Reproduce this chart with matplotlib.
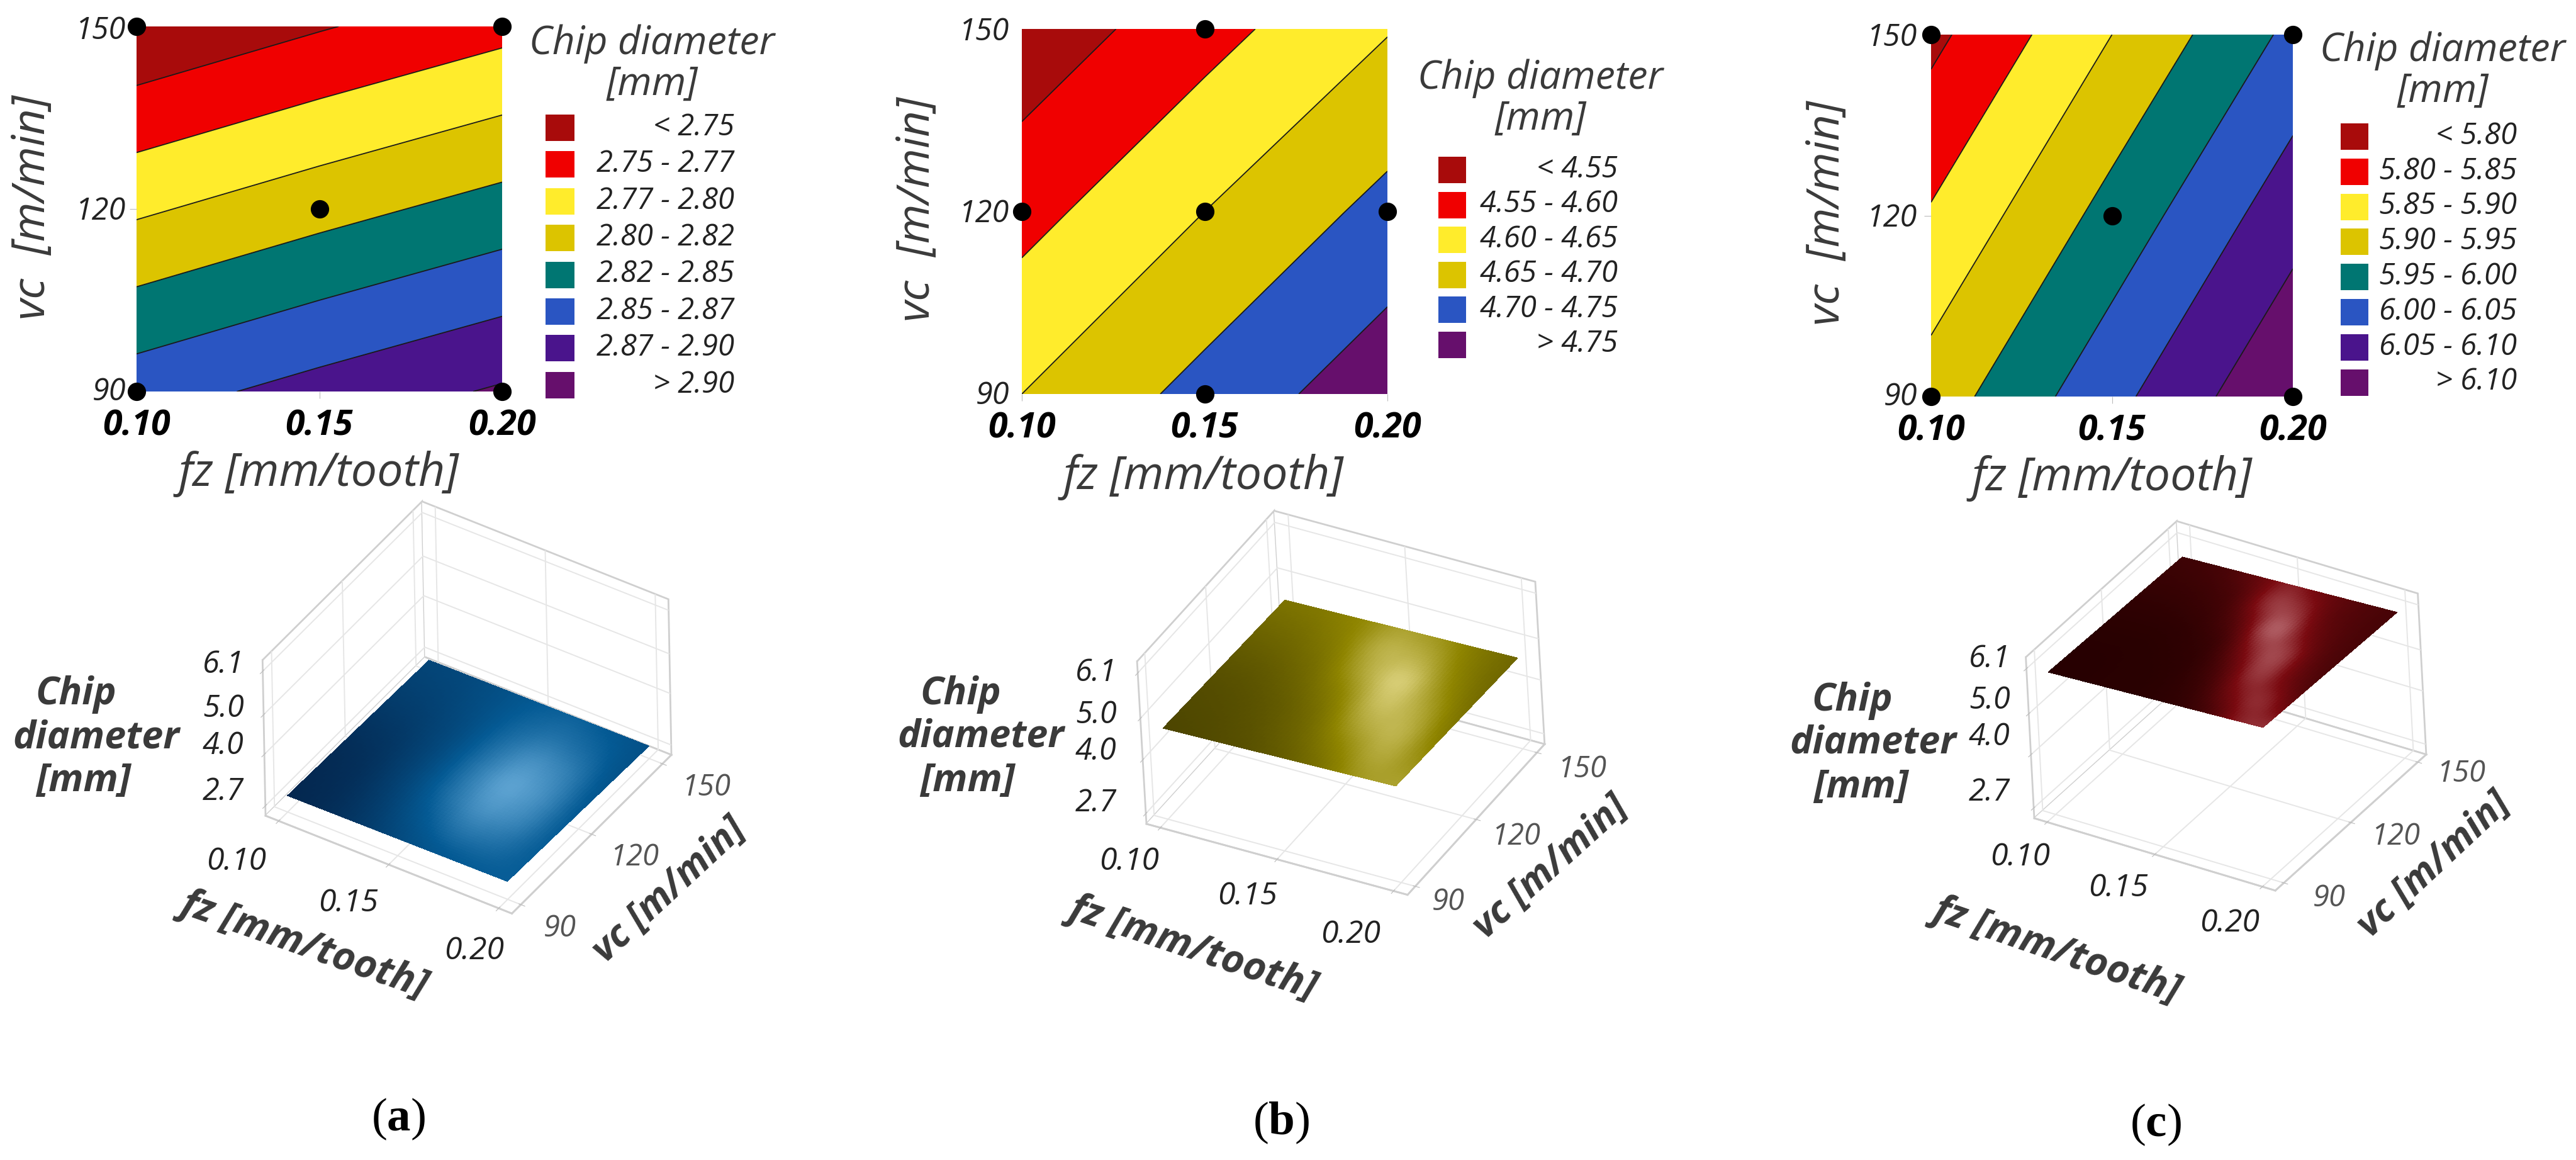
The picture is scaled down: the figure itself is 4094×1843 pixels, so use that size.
import numpy as np
import matplotlib
matplotlib.use('Agg')
import matplotlib.pyplot as plt
from matplotlib.colors import LinearSegmentedColormap
from matplotlib.patches import Rectangle
from mpl_toolkits.mplot3d import proj3d

W, H = 4094, 1843
plt.rcParams['font.family'] = ['Open Sans', 'DejaVu Sans']
plt.rcParams['mathtext.fontset'] = 'custom'
plt.rcParams['mathtext.bf'] = 'Liberation Serif:bold'
plt.rcParams['mathtext.rm'] = 'Liberation Serif'
plt.rcParams['grid.color'] = '#E6E6E6'
plt.rcParams['grid.linewidth'] = 1.4

# design axes
fz = [0.10, 0.15, 0.20]
vc = [90, 120, 150]

z_a = [[2.864, 2.884, 2.903], [2.796, 2.816, 2.835], [2.728, 2.748, 2.767]]
z_b = [[4.650, 4.716, 4.782], [4.583, 4.650, 4.715], [4.516, 4.582, 4.647]]
z_c = [[5.923, 6.035, 6.148], [5.855, 5.968, 6.080], [5.787, 5.900, 6.012]]

levels_a = [2.75, 2.775, 2.80, 2.825, 2.85, 2.875, 2.90]
levels_b = [4.55, 4.60, 4.65, 4.70, 4.75]
levels_c = [5.80, 5.85, 5.90, 5.95, 6.00, 6.05, 6.10]

labels_a = ['< 2.75', '2.75 - 2.77', '2.77 - 2.80', '2.80 - 2.82', '2.82 - 2.85',
            '2.85 - 2.87', '2.87 - 2.90', '> 2.90']
labels_b = ['< 4.55', '4.55 - 4.60', '4.60 - 4.65', '4.65 - 4.70', '4.70 - 4.75', '> 4.75']
labels_c = ['< 5.80', '5.80 - 5.85', '5.85 - 5.90', '5.90 - 5.95', '5.95 - 6.00',
            '6.00 - 6.05', '6.05 - 6.10', '> 6.10']

DRED, RED, YEL, GOLD, TEAL, BLUE, VIO, PUR = ('#A80B0B', '#F00000', '#FFEC2C', '#DCC400',
                                              '#007672', '#2A55C2', '#4A148C', '#660F6C')
colors_a = [DRED, RED, YEL, GOLD, TEAL, BLUE, VIO, PUR]
colors_b = [DRED, RED, YEL, GOLD, BLUE, PUR]
colors_c = colors_a

pts_a = ([0.10, 0.20, 0.15, 0.10, 0.20], [150, 150, 120, 90, 90])
pts_b = ([0.15, 0.10, 0.15, 0.20, 0.15], [150, 120, 120, 120, 90])
pts_c = ([0.10, 0.20, 0.15, 0.10, 0.20], [150, 150, 120, 90, 90])

# brightness of the 3d surfaces, rows front edge -> back edge, cols low fz -> high fz
shade_a = [[.00, .05, .18, .34, .46, .50, .52],
           [.02, .07, .24, .48, .68, .64, .50],
           [.04, .10, .30, .62, .88, .78, .48],
           [.10, .15, .32, .66, .98, .82, .45],
           [.18, .22, .34, .62, .86, .74, .42],
           [.25, .28, .38, .56, .66, .58, .40],
           [.30, .33, .40, .50, .54, .47, .40]]
shade_b = [[.05, .08, .12, .20, .35, .62, .68],
           [.08, .10, .16, .28, .50, .75, .55],
           [.10, .13, .20, .35, .72, .82, .42],
           [.15, .18, .28, .48, .90, .72, .35],
           [.22, .26, .36, .70, 1.0, .55, .30],
           [.30, .34, .46, .80, .75, .45, .28],
           [.38, .42, .52, .68, .58, .40, .28]]
shade_c = [[.02, .02, .03, .03, .05, .08, .20, .60, .68],
           [.02, .02, .03, .03, .06, .15, .50, .72, .35],
           [.03, .03, .03, .05, .08, .30, .78, .45, .22],
           [.05, .05, .05, .08, .15, .60, .85, .35, .20],
           [.08, .08, .10, .15, .38, 1.0, .50, .28, .20],
           [.12, .13, .16, .25, .75, .70, .35, .25, .20],
           [.15, .18, .25, .42, .62, .42, .32, .25, .20]]

cmap_a = LinearSegmentedColormap.from_list('a', ['#04274F', '#045A94', '#6BAEDB'])
cmap_b = LinearSegmentedColormap.from_list('b', ['#453E00', '#8F8500', '#E6DC8E'])
cmap_c = LinearSegmentedColormap.from_list('c', ['#240000', '#7A0A10', '#CC8A90'])

TICKS_Z = [2.7, 4.0, 5.0, 6.1]

fig = plt.figure(figsize=(W / 100, H / 100), dpi=100, facecolor='white')
over = fig.add_axes([0, 0, 1, 1], zorder=10)
over.set_xlim(0, W)
over.set_ylim(H, 0)
over.axis('off')
over.patch.set_alpha(0)


def txt(x, y, s, size, **kw):
    kw.setdefault('ha', 'center')
    kw.setdefault('va', 'center')
    kw.setdefault('style', 'italic')
    kw.setdefault('color', '#3A3A3A')
    over.text(x, y, s, fontsize=size, **kw)


def contour_panel(box, z, levels, colors, pts, tick_r, tick_y):
    x0, y0, x1, y1 = box
    ax = fig.add_axes([x0 / W, 1 - y1 / H, (x1 - x0) / W, (y1 - y0) / H])
    ax.contourf(fz, vc, z, levels=levels, colors=colors, extend='both')
    ax.contour(fz, vc, z, levels=levels, colors='#1A1A1A', linewidths=1.3)
    ax.scatter(pts[0], pts[1], s=400, color='black', clip_on=False, zorder=5)
    for s in ax.spines.values():
        s.set_visible(False)
    ax.set_xticks(fz)
    ax.set_xticklabels([f'{v:.2f}' for v in fz], fontsize=40, fontweight='bold', style='italic')
    ax.set_yticks([vc[1]])
    ax.set_yticklabels([''])
    ax.tick_params(length=8, color='#BBBBBB')
    ax.tick_params(axis='x', pad=12)
    for v, y in zip(vc, tick_y):
        txt(tick_r, y, str(v), 35, ha='right', color='#222222')


def legend(x0, x1, right, top, step, title_x, title_y, labels, colors):
    for i, (lab, c) in enumerate(zip(labels, colors)):
        over.add_patch(Rectangle((x0, top + i * step), x1 - x0, 42, color=c, lw=0))
        txt(right, top + i * step + 20, lab, 34, ha='right', color='#222222')
    txt(title_x, title_y[0], 'Chip diameter', 45)
    txt(title_x, title_y[1], '[mm]', 45)


def upsample(table, n=70):
    t = np.array(table, dtype=float)
    uo = np.linspace(0, 1, t.shape[1])
    vo = np.linspace(0, 1, t.shape[0])
    un = np.linspace(0, 1, n)
    a = np.array([np.interp(un, uo, r) for r in t])
    return np.array([np.interp(un, vo, c) for c in a.T]).T


def smooth(a, k=9):
    ker = np.ones(k) / k
    p = np.pad(a, k, mode='edge')
    p = np.apply_along_axis(lambda r: np.convolve(r, ker, mode='same'), 0, p)
    p = np.apply_along_axis(lambda r: np.convolve(r, ker, mode='same'), 1, p)
    return p[k:-k, k:-k]


def box_panel(view, aspect, left, right, z, shade, cmap):
    ax = fig.add_axes([0.1, 0.1, 400 / W, 400 / H], projection='3d', computed_zorder=True)
    ax.patch.set_alpha(0)
    ax.set_proj_type('ortho')
    ax.view_init(elev=view[0], azim=view[1], roll=view[2])
    ax.set_box_aspect(aspect)
    ax.set_xlim(0.094, 0.206)
    ax.set_ylim(86.2, 153.8)
    ax.set_zlim(2.45, 6.38)

    zz = upsample(z)
    n = zz.shape[0]
    X, Y = np.meshgrid(np.linspace(fz[0], fz[-1], n), np.linspace(vc[0], vc[-1], n))
    ax.plot_surface(X, Y, zz, facecolors=cmap(smooth(upsample(shade))), shade=False,
                    rstride=1, cstride=1, linewidth=0, antialiased=False)

    ax.set_xticks(fz)
    ax.set_yticks(vc)
    ax.set_zticks(TICKS_Z)
    ax.set_xticklabels([])
    ax.set_yticklabels([])
    ax.set_zticklabels([])
    ax.zaxis.set_ticks_position('lower')
    for a in (ax.xaxis, ax.yaxis, ax.zaxis):
        a.set_pane_color((1, 1, 1, 1))
        a.pane.set_edgecolor('#CFCFCF')
        a.pane.set_linewidth(2)
        a.line.set_color('#CFCFCF')
        a.line.set_linewidth(2)
    ax.tick_params(colors='#BBBBBB')

    # move the square axes so the two floor corners land where they should
    def corners():
        ax.apply_aspect()
        M = ax.get_proj()
        out = []
        for px, py in ((0.094, 86.2), (0.206, 153.8)):
            xs, ys, _ = proj3d.proj_transform(px, py, 2.45, M)
            out.append(ax.transData.transform((xs, ys)))
        return np.array(out)

    size = 400.0
    for _ in range(2):
        c = corners()
        d_now = np.linalg.norm(c[1] - c[0])
        d_want = np.hypot(right[0] - left[0], right[1] - left[1])
        size *= d_want / d_now
        ax.set_position([0.1, 0.1, size / W, size / H])
    c = corners()
    pos = ax.get_position()
    dx = left[0] - c[0][0]
    dy = (H - left[1]) - c[0][1]
    ax.set_position([pos.x0 + dx / W, pos.y0 + dy / H, size / W, size / H])
    return ax


def box_labels(z_x, z_y, chip, x_pos, v_pos, fz_t, vc_t, rot):
    for s, y in zip(['6.1', '5.0', '4.0', '2.7'], z_y):
        txt(z_x, y, s, 35, color='#222222')
    for s, p in zip(['Chip', 'diameter', '[mm]'], chip):
        txt(p[0], p[1], s, 44, fontweight='bold')
    for s, p in zip(['0.10', '0.15', '0.20'], x_pos):
        txt(p[0], p[1], s, 36, color='#222222')
    for s, p in zip(['150', '120', '90'], v_pos):
        txt(p[0], p[1], s, 34, color='#555555')
    txt(fz_t[0], fz_t[1], 'fz [mm/tooth]', 45, fontweight='bold', rotation=rot[0], rotation_mode='anchor')
    txt(vc_t[0], vc_t[1], 'vc [m/min]', 44, fontweight='bold', rotation=rot[1], rotation_mode='anchor')


# panel (a)
contour_panel((217, 42, 798, 622), z_a, levels_a, colors_a, pts_a, 200, [623, 336, 49])
legend(867, 913, 1167, 182, 58.4, 1036, (70, 135), labels_a, colors_a)
txt(506, 753, 'fz [mm/tooth]', 53)
txt(52, 330, 'vc  [m/min]', 52, rotation=90)
box_panel((39.3, -56.5, 1.1), (465, 467, 319), (422, 1296), (1068, 1206), z_a, shade_a, cmap_a)
box_labels(355, [1056, 1126, 1185, 1258], [(121, 1103), (153, 1173), (133, 1242)],
           [(376, 1369), (554, 1435), (754, 1511)], [(1122, 1251), (1008, 1362), (890, 1475)],
           (484, 1500), (1064, 1415), (-19.3, 42.8))
txt(633, 1778, r'($\mathbf{a}$)', 54, style='normal', color='black', family='Liberation Serif')

# panel (b)
contour_panel((1624, 46, 2205, 626), z_b, levels_b, colors_b, pts_b, 1604, [629, 340, 51])
legend(2286, 2330, 2571, 249, 55.5, 2448, (125, 190), labels_b, colors_b)
txt(1912, 758, 'fz [mm/tooth]', 53)
txt(1458, 333, 'vc  [m/min]', 52, rotation=90)
box_panel((34.9, -59.7, 3.3), (472, 458, 315), (1822, 1309), (2455, 1183), z_b, shade_b, cmap_b)
box_labels(1742, [1069, 1136, 1194, 1276], [(1527, 1103), (1559, 1171), (1538, 1242)],
           [(1795, 1369), (1983, 1424), (2147, 1485)], [(2514, 1222), (2409, 1329), (2302, 1433)],
           (1897, 1505), (2465, 1379), (-18.5, 42))
txt(2036, 1784, r'($\mathbf{b}$)', 54, style='normal', color='black', family='Liberation Serif')

# panel (c)
contour_panel((3069, 55, 3644, 630), z_c, levels_c, colors_c, pts_c, 3047, [631, 347, 60])
legend(3720, 3764, 4000, 196, 55.8, 3882, (81, 146), labels_c, colors_c)
txt(3356, 760, 'fz [mm/tooth]', 53)
txt(2904, 339, 'vc  [m/min]', 52, rotation=90)
box_panel((32.6, -56.4, 3.0), (452, 453, 304), (3233, 1300), (3856, 1199), z_c, shade_c, cmap_c)
box_labels(3162, [1047, 1113, 1171, 1259], [(2944, 1113), (2977, 1181), (2958, 1251)],
           [(3211, 1362), (3367, 1411), (3544, 1467)], [(3911, 1229), (3807, 1329), (3702, 1427)],
           (3269, 1509), (3869, 1375), (-19, 43))
txt(3426, 1787, r'($\mathbf{c}$)', 54, style='normal', color='black', family='Liberation Serif')

fig.savefig('out.png', dpi=100)
